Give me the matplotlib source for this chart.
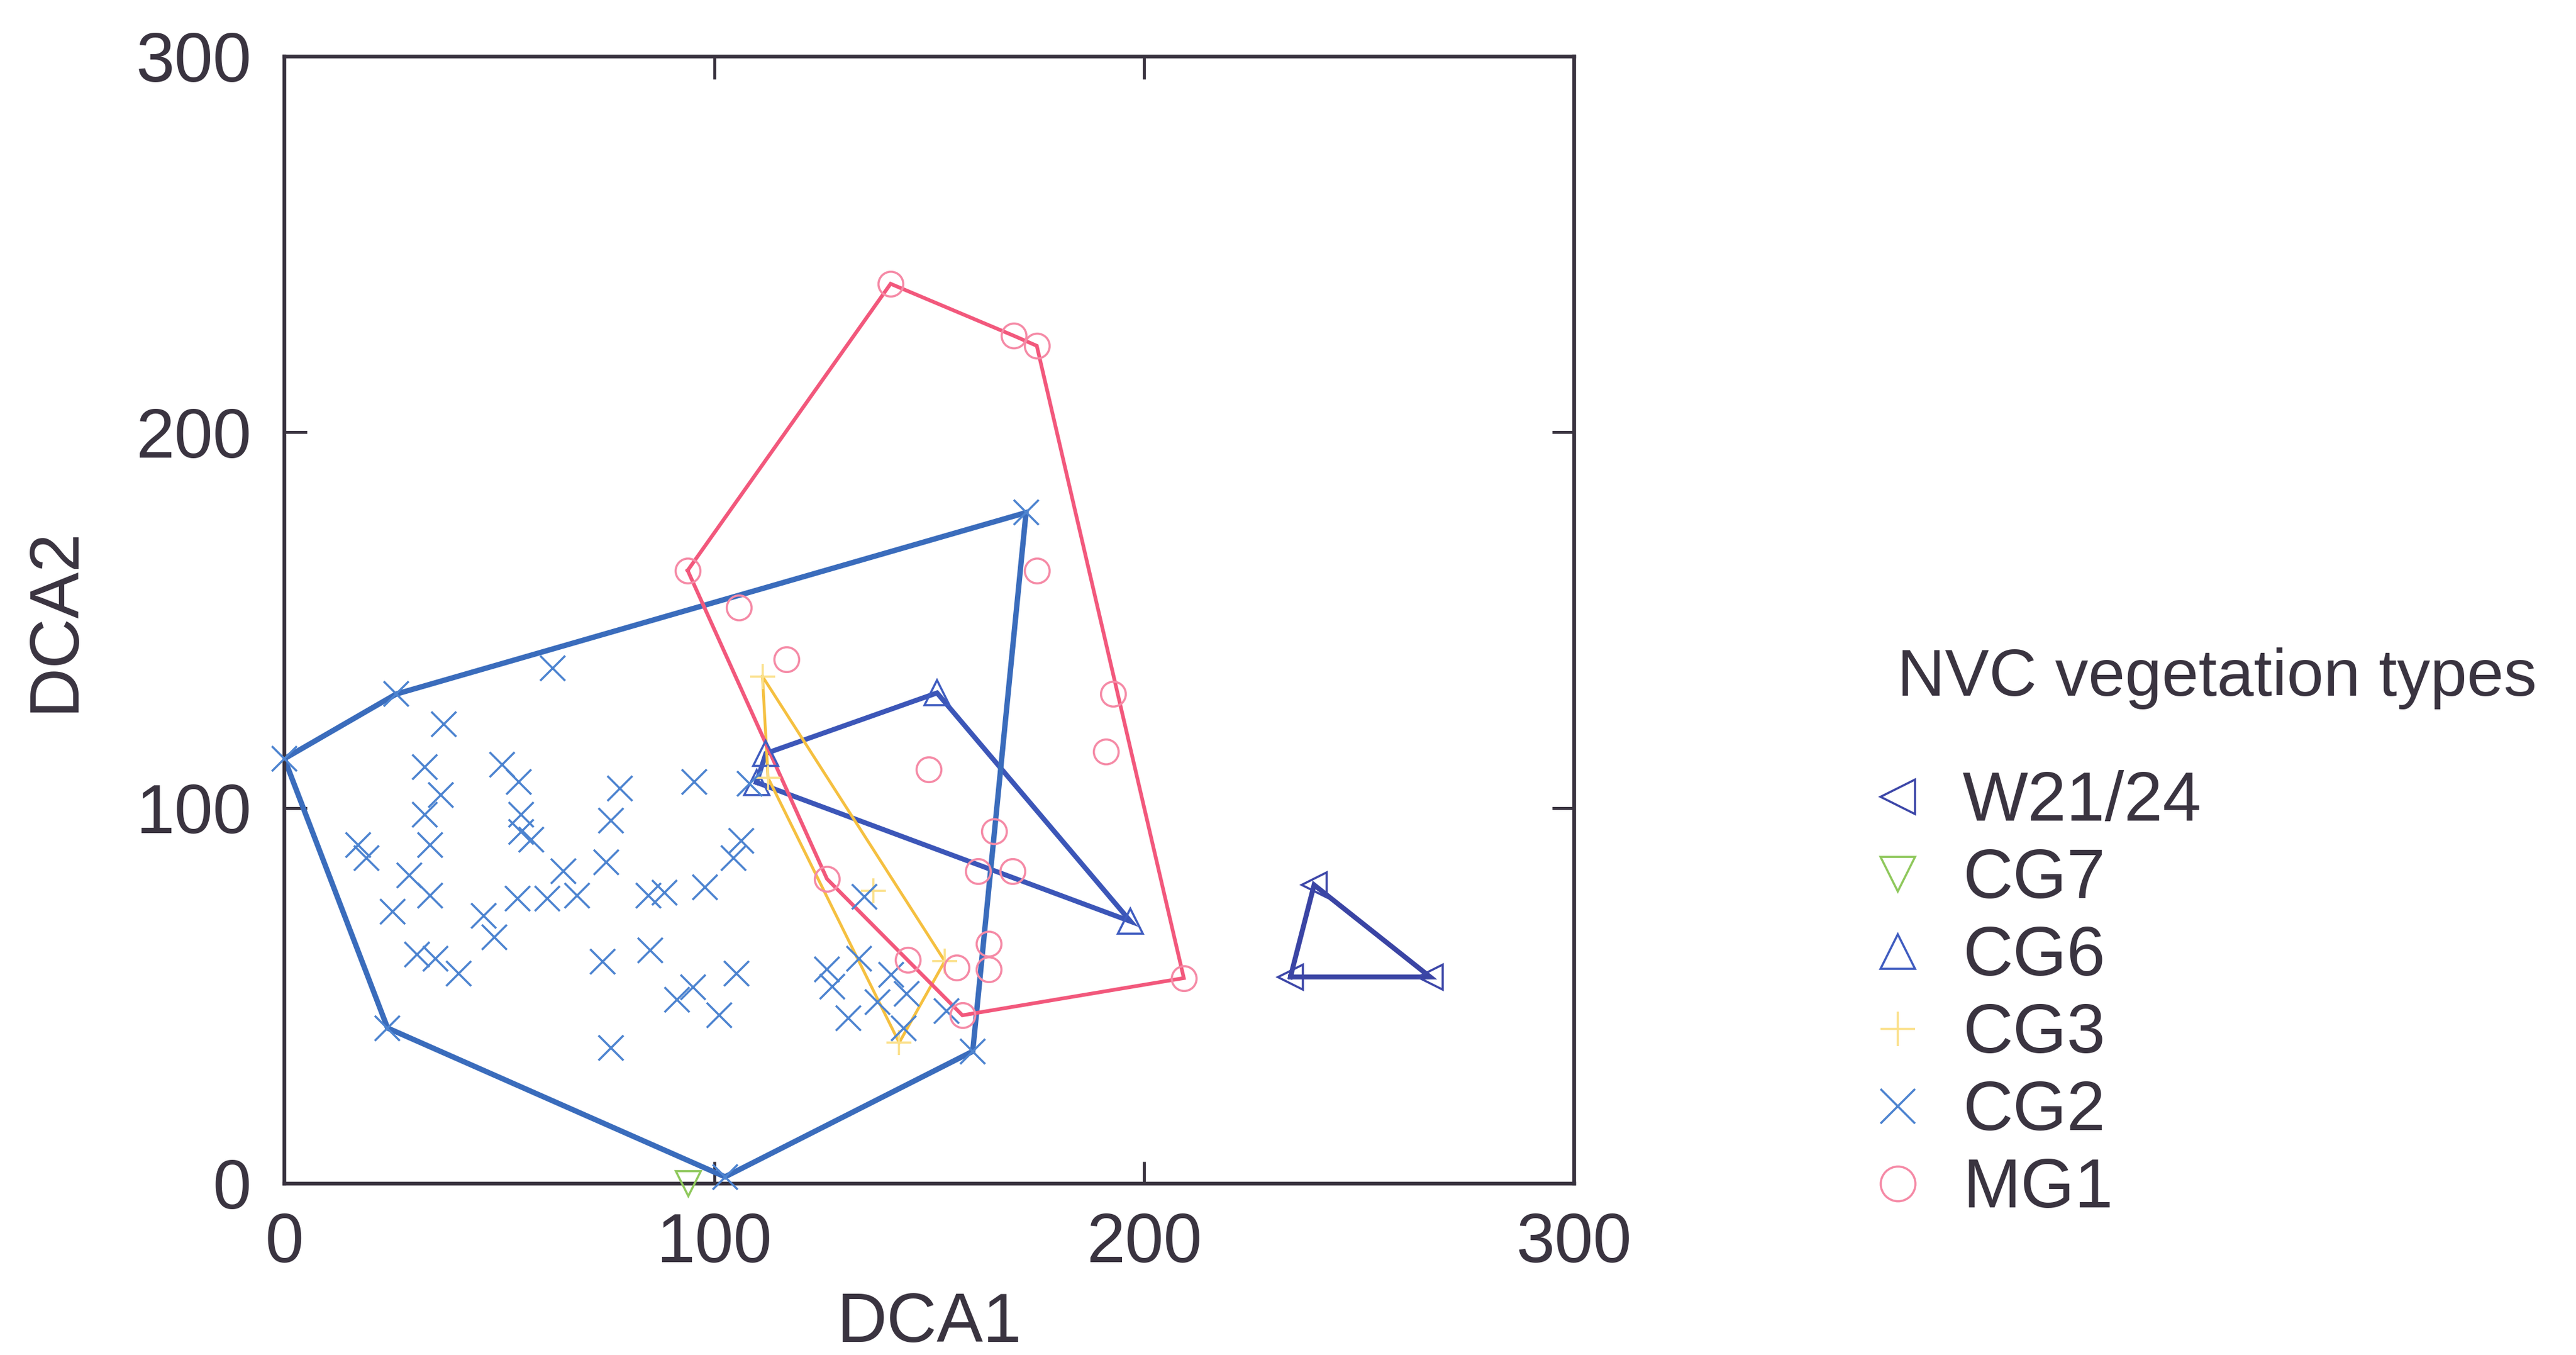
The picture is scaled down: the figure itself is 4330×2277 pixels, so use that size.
import numpy as np
import matplotlib
matplotlib.use("Agg")
import matplotlib.pyplot as plt
from matplotlib.lines import Line2D

plt.rcParams['font.family'] = ['Liberation Sans', 'DejaVu Sans']

# --- DCA site scores per NVC vegetation type ---
groups = ["W21/24", "CG7", "CG6", "CG3", "CG2", "MG1"]

w21_x = [234.0, 239.5, 266.5]
w21_y = [55.0, 79.5, 55.0]

cg7_x = [94.0]
cg7_y = [0.0]

cg6_x = [109.8, 112.0, 151.8, 196.8]
cg6_y = [106.8, 114.5, 130.6, 69.8]

cg3_x = [111.2, 112.5, 137.0, 143.0, 153.6]
cg3_y = [135.0, 108.0, 78.0, 37.5, 59.2]

cg2_x = [0.0, 26.0, 172.5, 160.1, 102.5, 24.0,
         62.4, 37.1, 32.7, 36.4, 32.7, 33.9, 17.1, 19.1, 29.0, 33.9,
         25.2, 30.9, 35.1, 40.6, 50.7, 54.5, 55.0, 55.0, 57.4, 46.3,
         48.8, 54.2, 61.1, 64.9, 68.1, 78.0, 76.0, 74.8, 84.7, 88.4,
         97.8, 95.3, 104.5, 106.2, 74.0, 85.1, 76.0, 91.3, 95.0, 101.2,
         105.2, 126.2, 127.5, 131.2, 133.7, 134.9, 141.1, 137.9, 144.8,
         144.1, 154.0, 108.2]
cg2_y = [113.1, 130.3, 178.6, 35.2, 1.8, 41.4,
         137.2, 122.3, 110.8, 103.4, 98.2, 90.1, 90.1, 86.7, 82.1, 76.6,
         72.4, 60.9, 59.8, 55.9, 111.5, 106.9, 98.2, 93.6, 91.5, 71.3,
         65.5, 75.9, 75.9, 83.2, 76.6, 105.1, 96.6, 85.5, 76.6, 77.5,
         78.9, 106.9, 86.7, 91.3, 59.1, 62.1, 36.1, 49.0, 52.2, 44.8,
         55.9, 57.0, 52.4, 44.1, 59.8, 76.3, 55.6, 48.3, 50.6,
         41.4, 46.0, 106.4]

mg1_x = [141.0, 169.6, 175.0, 93.8, 105.7, 116.8, 175.0, 192.8, 191.1,
         149.8, 165.1, 161.4, 169.3, 126.2, 163.9, 163.9, 145.0, 156.4,
         157.7, 209.2]
mg1_y = [239.5, 225.7, 223.0, 163.2, 153.3, 139.5, 163.2, 130.3, 115.0,
         110.3, 93.8, 83.2, 83.2, 81.1, 63.9, 57.0, 59.5, 57.5,
         44.8, 54.7]

series = {
    "W21/24": (w21_x, w21_y),
    "CG7": (cg7_x, cg7_y),
    "CG6": (cg6_x, cg6_y),
    "CG3": (cg3_x, cg3_y),
    "CG2": (cg2_x, cg2_y),
    "MG1": (mg1_x, mg1_y),
}

styles = {
    "W21/24": dict(marker="<", mcol="#3c46a8", lcol="#3a44a4", lw=6.0),
    "CG7": dict(marker="v", mcol="#8fc85c", lcol="#8fc85c", lw=3.0),
    "CG6": dict(marker="^", mcol="#3f5cc0", lcol="#3c56b8", lw=6.0),
    "CG3": dict(marker="+", mcol="#fbe08a", lcol="#f5c040", lw=3.5),
    "CG2": dict(marker="x", mcol="#4d84d0", lcol="#3a6cbc", lw=6.5),
    "MG1": dict(marker="o", mcol="#f58aa6", lcol="#f2587c", lw=4.5),
}


def convex_hull(xs, ys):
    """Monotone-chain convex hull, returned as a closed ring."""
    pts = sorted(set(zip(xs, ys)))
    if len(pts) < 3:
        return pts

    def cross(o, a, b):
        return (a[0] - o[0]) * (b[1] - o[1]) - (a[1] - o[1]) * (b[0] - o[0])

    lower, upper = [], []
    for p in pts:
        while len(lower) >= 2 and cross(lower[-2], lower[-1], p) <= 0:
            lower.pop()
        lower.append(p)
    for p in reversed(pts):
        while len(upper) >= 2 and cross(upper[-2], upper[-1], p) <= 0:
            upper.pop()
        upper.append(p)
    ring = lower[:-1] + upper[:-1]
    return ring + [ring[0]]


text_col = "#3a3440"
fig = plt.figure(figsize=(43.3, 22.77), dpi=100)
ax = fig.add_axes([0.1104, 0.1265, 0.5007, 0.8318])

for name in groups:
    xs, ys = series[name]
    st = styles[name]
    if len(xs) >= 3:
        ring = convex_hull(xs, ys)
        hx, hy = zip(*ring)
        ax.plot(hx, hy, color=st["lcol"], lw=st["lw"], zorder=2,
                solid_joinstyle="miter")
    ax.plot(xs, ys, linestyle="none", marker=st["marker"], markersize=30,
            markerfacecolor="none", markeredgecolor=st["mcol"],
            markeredgewidth=2.6, zorder=3, clip_on=False)

ax.set_xlim(0, 300)
ax.set_ylim(0, 300)
ax.set_xticks([0, 100, 200, 300])
ax.set_yticks([0, 100, 200, 300])
ax.tick_params(axis="both", which="both", direction="in", top=True, right=True,
               length=27, width=3.6, color=text_col, labelsize=84,
               labelcolor=text_col)
ax.tick_params(axis="x", pad=34)
ax.tick_params(axis="y", pad=40)
for sp in ax.spines.values():
    sp.set_linewidth(4.6)
    sp.set_color(text_col)

ax.set_xlabel("DCA1", fontsize=84, color=text_col, labelpad=18)
ax.set_ylabel("DCA2", fontsize=84, color=text_col, labelpad=58)

handles = []
for name in groups:
    st = styles[name]
    handles.append(Line2D([], [], linestyle="none", marker=st["marker"],
                          markersize=42, markerfacecolor="none",
                          markeredgecolor=st["mcol"], markeredgewidth=2.6))

fig.text(0.7365, 0.4994, "NVC vegetation types", ha="left", va="center",
         fontsize=80, color=text_col)
leg = fig.legend(handles, groups, loc="upper left",
                 bbox_to_anchor=(0.7290, 0.4315),
                 frameon=False, fontsize=84,
                 handlelength=0.57, handletextpad=0.65,
                 labelspacing=0.18, borderpad=0, borderaxespad=0)
for t in leg.get_texts():
    t.set_color(text_col)

fig.savefig("out.png", dpi=100, facecolor="white")
